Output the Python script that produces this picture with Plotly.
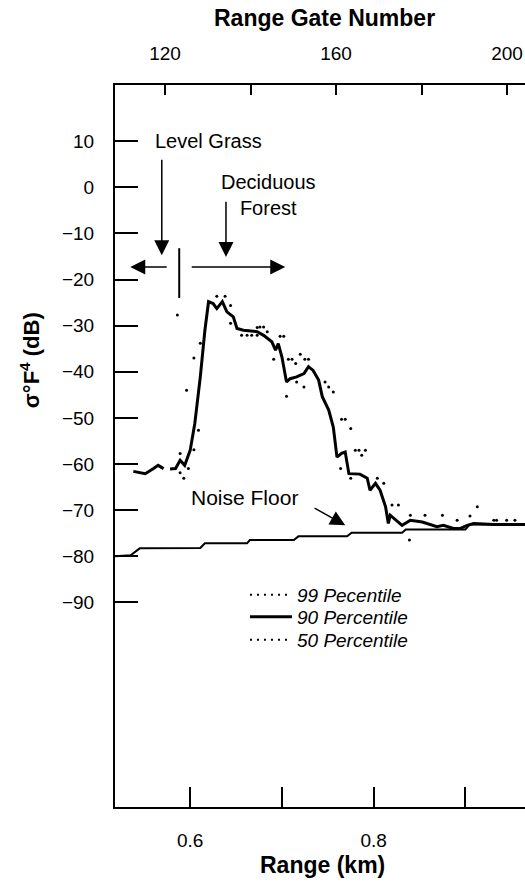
import plotly.graph_objects as go

# ---------------- data ----------------
# 90 percentile (solid line): range in km, value in dB
p90_range = [0.538, 0.551, 0.560, 0.565, 0.571, None, 0.578, 0.584, 0.589, 0.594, 0.600,
             0.605, 0.611, 0.616, 0.620, 0.625, 0.629, 0.635, 0.640, 0.647, 0.651,
             0.658, 0.673, 0.680, 0.689, 0.693, 0.696, 0.700, 0.705, 0.709, 0.716,
             0.724, 0.729, 0.734, 0.740, 0.744, 0.751, 0.756, 0.760, 0.765, 0.769,
             0.773, 0.785, 0.793, 0.796, 0.802, 0.807, 0.813, 0.816, 0.818, 0.831,
             0.840, 0.853, 0.869, 0.876, 0.887, 0.894, 0.902, 0.909, 0.931, 0.965]
p90_db = [-61.6, -62.1, -61.0, -60.3, -61.0, None, -61.1, -61.0, -59.2, -60.3, -57.0,
          -51.2, -41.1, -31.0, -24.8, -25.2, -26.3, -24.8, -27.0, -28.1, -30.6,
          -31.0, -31.3, -32.1, -33.5, -35.3, -33.9, -36.8, -42.2, -41.5, -41.1,
          -40.4, -38.9, -39.7, -41.8, -45.4, -48.3, -52.0, -58.5, -57.7, -57.4,
          -62.1, -62.2, -63.1, -65.7, -64.2, -65.7, -69.3, -72.9, -71.1, -73.3,
          -72.2, -72.6, -73.6, -73.3, -74.0, -74.0, -73.3, -72.9, -73.1, -73.1]

# 99 percentile (visible dots, above the solid line)
p99_range = [0.586, 0.589, 0.596, 0.604, 0.611, 0.629, 0.638, 0.644, 0.673, 0.676,
             0.680, 0.684, 0.698, 0.702, 0.707, 0.711, 0.715, 0.720, 0.725, 0.729,
             0.747, 0.751, 0.756, 0.765, 0.769, 0.775, 0.780, 0.784, 0.787, 0.791,
             0.804, 0.811, 0.820, 0.827, 0.840, 0.856, 0.875, 0.891, 0.905, 0.913,
             0.931, 0.934, 0.945, 0.954]
p99_db = [-27.7, -57.7, -44.0, -37.0, -33.8, -23.6, -23.6, -25.6, -30.4, -30.3,
          -30.3, -31.3, -32.3, -32.3, -37.3, -37.3, -38.2, -36.2, -37.3, -37.3,
          -42.2, -43.3, -44.4, -50.3, -50.3, -52.3, -57.0, -57.0, -58.1, -57.0,
          -63.1, -64.2, -68.9, -68.9, -71.1, -71.1, -71.1, -72.2, -71.3, -69.3,
          -72.2, -72.2, -72.2, -72.2]

# 50 percentile (visible dots, below the solid line)
p50_range = [0.589, 0.593, 0.598, 0.604, 0.609, 0.644, 0.656, 0.662, 0.667, 0.673,
             0.691, 0.705, 0.716, 0.724, 0.764, 0.775, 0.839]
p50_db = [-61.9, -63.1, -61.0, -56.9, -52.7, -29.5, -32.1, -32.1, -32.1, -32.1,
          -37.3, -45.3, -42.2, -43.3, -61.0, -63.1, -76.5]

# noise floor
noise_range = [0.518, 0.535, 0.545, 0.611, 0.616, 0.662, 0.665, 0.713, 0.718,
               0.771, 0.776, 0.831, 0.835, 0.900, 0.905, 0.965]
noise_db = [-80.0, -79.8, -78.3, -78.2, -77.2, -77.2, -76.5, -76.5, -75.7,
            -75.7, -74.9, -74.9, -74.2, -74.2, -73.1, -73.1]

# axis ticks
y_ticks = [10, 0, -10, -20, -30, -40, -50, -60, -70, -80, -90]
x_labeled_ticks = [0.6, 0.8]
x_minor_ticks = [0.7, 0.9]
gate_labeled_ticks = [120, 160, 200]
gate_minor_ticks = [140, 180]

FONT = "Liberation Sans, Arial, Helvetica, sans-serif"
BLACK = "black"

fig = go.Figure()

fig.add_trace(go.Scatter(x=noise_range, y=noise_db, mode="lines",
                         line=dict(color=BLACK, width=2), showlegend=False,
                         hoverinfo="skip"))

fig.add_trace(go.Scatter(x=p99_range, y=p99_db, mode="markers",
                         marker=dict(color=BLACK, size=3), showlegend=False))
fig.add_trace(go.Scatter(x=p50_range, y=p50_db, mode="markers",
                         marker=dict(color=BLACK, size=3), showlegend=False))

# legend entries (each in its own legend box for precise placement)
fig.add_trace(go.Scatter(x=[None], y=[None], mode="lines",
                         line=dict(color=BLACK, width=2, dash="2px,5px"),
                         name="<i>99 Pecentile</i>", legend="legend"))
fig.add_trace(go.Scatter(x=p90_range, y=p90_db, mode="lines",
                         line=dict(color=BLACK, width=3), connectgaps=False,
                         name="<i>90 Percentile</i>", legend="legend2"))
fig.add_trace(go.Scatter(x=[None], y=[None], mode="lines",
                         line=dict(color=BLACK, width=2, dash="2px,5px"),
                         name="<i>50 Percentile</i>", legend="legend3"))

# dummy trace to anchor top axis
fig.add_trace(go.Scatter(x=[None], y=[None], xaxis="x2", showlegend=False,
                         hoverinfo="skip"))

# annotation positions (data coords: km, dB)
LG_ARROW = dict(x=0.569, y=-14.7, ax=0.569, ay=6.3)
DF_ARROW = dict(x=0.639, y=-15.1, ax=0.639, ay=-2.8)
LEFT_ARROW = dict(x=0.5346, y=-17.25, ax=0.576, ay=-17.25)
RIGHT_ARROW = dict(x=0.7036, y=-17.25, ax=0.600, ay=-17.25)
NF_ARROW = dict(x=0.769, y=-73.3, ax=0.734, ay=-69.4)

annotations = []
for a in (LG_ARROW, DF_ARROW, LEFT_ARROW, RIGHT_ARROW, NF_ARROW):
    annotations.append(dict(xref="x", yref="y", axref="x", ayref="y", text="",
                            showarrow=True, arrowhead=2, arrowsize=2,
                            arrowwidth=1.5, arrowcolor=BLACK, **a))

annotations += [
    dict(x=0.6196, y=10.0, xref="x", yref="y", text="Level Grass", showarrow=False,
         font=dict(size=20, family=FONT, color=BLACK)),
    dict(x=0.685, y=-1.6, xref="x", yref="y", text="Deciduous<br>Forest",
         showarrow=False, font=dict(size=20, family=FONT, color=BLACK)),
    dict(x=0.6594, y=-67.2, xref="x", yref="y", text="Noise Floor",
         showarrow=False, font=dict(size=21, family=FONT, color=BLACK)),
    dict(x=0.512, y=1.093, xref="paper", yref="paper", xanchor="center",
         yanchor="middle", text="<b>Range Gate Number</b>",
         showarrow=False, font=dict(size=23, family=FONT, color=BLACK)),
    dict(x=0.505, y=-0.080, xref="paper", yref="paper", xanchor="center",
         yanchor="middle", text="<b>Range (km)</b>",
         showarrow=False, font=dict(size=23, family=FONT, color=BLACK)),
    dict(x=-0.207, y=0.619, xref="paper", yref="paper", xanchor="center",
         yanchor="middle", text="<b>σ°F<sup>4</sup> (dB)</b>", textangle=-90,
         showarrow=False, font=dict(size=22, family=FONT, color=BLACK)),
]

leg_common = dict(x=0.317, xanchor="left", yanchor="middle",
                  bgcolor="rgba(0,0,0,0)", font=dict(size=19, family=FONT, color=BLACK),
                  itemwidth=42, borderwidth=0)

fig.update_layout(
    width=525, height=884,
    margin=dict(l=115, r=0, t=85, b=77),
    paper_bgcolor="white", plot_bgcolor="white",
    font=dict(family=FONT, color=BLACK, size=19),
    annotations=annotations,
    shapes=[dict(type="line", xref="x", yref="y", x0=0.588, x1=0.588,
                 y0=-13.2, y1=-24.0, line=dict(color=BLACK, width=2))],
    legend=dict(y=0.2936, **leg_common),
    legend2=dict(y=0.2632, **leg_common),
    legend3=dict(y=0.2313, **leg_common),
    xaxis=dict(range=[0.518, 0.965], showline=True, linewidth=2, linecolor=BLACK,
               ticks="inside", ticklen=20, tickwidth=2, tickcolor=BLACK,
               tickvals=x_labeled_ticks, tickformat=".1f", showgrid=False,
               zeroline=False, tickfont=dict(size=19), ticklabelstandoff=15,
               minor=dict(tickvals=x_minor_ticks, ticks="inside", ticklen=20,
                          tickwidth=2, tickcolor=BLACK, showgrid=False)),
    xaxis2=dict(range=[108.3, 204.2], overlaying="x", side="top", showline=True,
                linewidth=2, linecolor=BLACK, ticks="inside", ticklen=10,
                tickwidth=2, tickcolor=BLACK, tickvals=gate_labeled_ticks,
                showgrid=False, zeroline=False, anchor="y",
                tickfont=dict(size=19), ticklabelstandoff=15,
                minor=dict(tickvals=gate_minor_ticks, ticks="inside", ticklen=10,
                           tickwidth=2, tickcolor=BLACK, showgrid=False)),
    yaxis=dict(range=[-134.4, 22.2], showline=True, linewidth=2, linecolor=BLACK,
               ticks="inside", ticklen=23, tickwidth=2, tickcolor=BLACK,
               tickvals=y_ticks, showgrid=False, zeroline=False,
               tickfont=dict(size=19), ticklabelstandoff=15),
)

fig.write_html("out.html")
